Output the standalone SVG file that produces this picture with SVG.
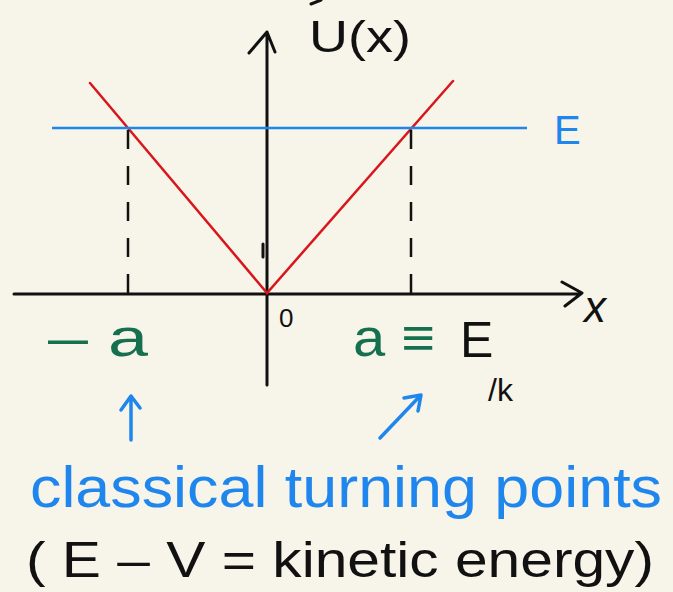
<svg xmlns="http://www.w3.org/2000/svg" width="673" height="592" viewBox="0 0 673 592">
<style>
.ax{stroke:#111;stroke-width:3;fill:none;stroke-linecap:round;stroke-linejoin:round}
.dash{stroke:#111;stroke-width:2.5;stroke-dasharray:19 17;fill:none}
.blk{fill:#111;font-family:"Liberation Sans",sans-serif}
.grn{fill:#16704f;font-family:"Liberation Sans",sans-serif}
.blu{fill:#1f86ee;font-family:"Liberation Sans",sans-serif}
.barr{stroke:#1f86ee;stroke-width:3.5;fill:none;stroke-linecap:round;stroke-linejoin:round}
</style>
<rect width="673" height="592" fill="#f7f4e9"/>
<g id="connectors">
<path class="ax" d="M14 294 H580 M562 282 L582 293 L565 306"/>
<path class="ax" d="M267 385 V32 M249 53 L267 32 L275 52"/>
<path class="ax" d="M263 244 V257" stroke-width="2"/>
<path class="ax" d="M311 4 L321 0" stroke-width="2"/>
<path d="M90 83 L267 293 L453 81" stroke="#d9161c" stroke-width="2.5" fill="none" stroke-linecap="round"/>
<path d="M52 128 H527" stroke="#1f86ee" stroke-width="2.5" fill="none"/>
<path class="dash" d="M128 130 V293 M411 130 V293"/>
<path class="barr" d="M131 440 V398 M121 410 L131 396 L140 408"/>
<path class="barr" d="M380 438 L420 396 M404 398 L421 395 L418 411"/>
</g>
<g id="labels">
<text class="blk" x="309" y="52" font-size="44" textLength="102" lengthAdjust="spacingAndGlyphs">U(x)</text>
<text class="blu" x="554" y="144" font-size="40">E</text>
<text class="blk" x="584" y="322" font-size="44" font-style="italic">x</text>
<text class="blk" x="279" y="327" font-size="26">0</text>
<text class="grn" x="48" y="356" font-size="54" textLength="100" lengthAdjust="spacingAndGlyphs">– a</text>
<text class="grn" x="353" y="356" font-size="54" textLength="82" lengthAdjust="spacingAndGlyphs">a ≡</text>
<text class="blk" x="460" y="357" font-size="50">E</text>
<text class="blk" x="488" y="401" font-size="32">/k</text>
<text class="blu" x="30" y="507" font-size="58" textLength="632" lengthAdjust="spacingAndGlyphs">classical turning points</text>
<text class="blk" x="26" y="577" font-size="50" textLength="628" lengthAdjust="spacingAndGlyphs">( E – V = kinetic energy)</text>
</g>
</svg>
